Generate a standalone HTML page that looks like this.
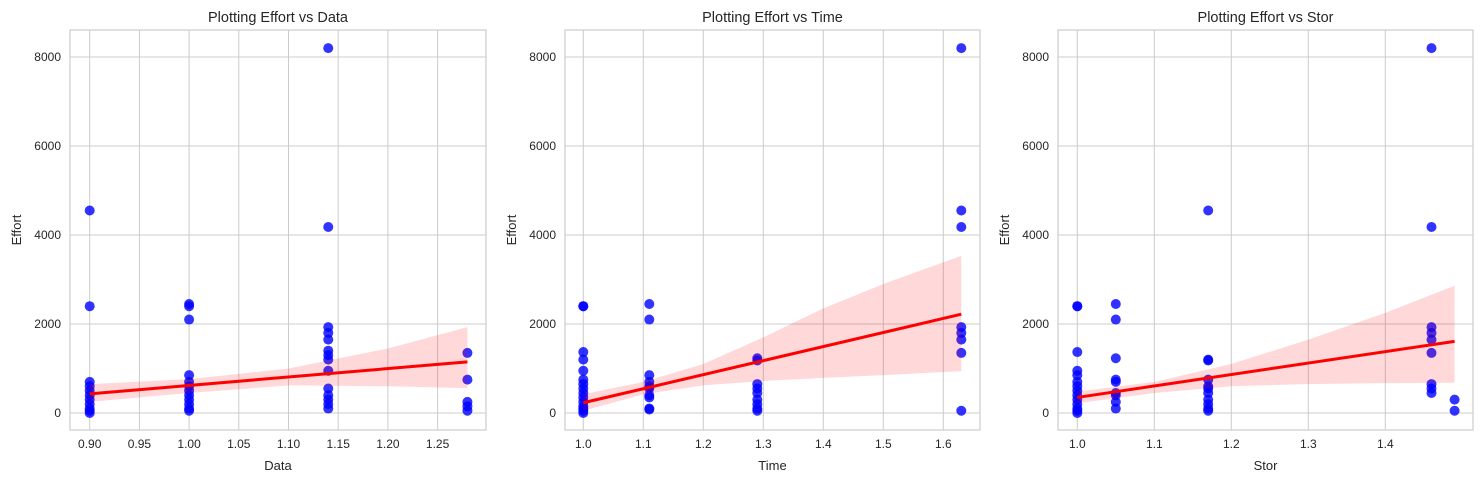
<!DOCTYPE html>
<html><head><meta charset="utf-8"><style>
body{margin:0;background:#fff;font-family:"Liberation Sans",sans-serif}
svg text{font-family:"Liberation Sans",sans-serif;fill:#262626}
</style></head><body>
<svg id="chart" width="1483" height="484" xmlns="http://www.w3.org/2000/svg"></svg>
<script>
// Panel 1: Data
const p1X=[0.90,0.90,0.90,0.90,0.90,0.90,0.90,0.90,0.90,0.90,0.90, 1.00,1.00,1.00,1.00,1.00,1.00,1.00,1.00,1.00,1.00,1.00,1.00, 1.14,1.14,1.14,1.14,1.14,1.14,1.14,1.14,1.14,1.14,1.14,1.14,1.14,1.14, 1.28,1.28,1.28,1.28,1.28];
const p1Y=[4550,2400,700,600,500,400,300,200,100,50,0, 2450,2400,2100,850,700,600,500,400,300,200,100,50, 8200,4180,1930,1800,1650,1400,1300,1200,950,550,400,300,200,100, 1350,750,250,150,50];
const p1FitX=[0.90,1.00,1.10,1.20,1.28];
const p1FitLo=[250,450,620,600,560];
const p1FitHi=[650,760,1000,1450,1930];
const p1Line=[430,1150];
const p1Ticks=[0.90,0.95,1.00,1.05,1.10,1.15,1.20,1.25];
const p1TickLabels=["0.90","0.95","1.00","1.05","1.10","1.15","1.20","1.25"];
// Panel 2: Time
const p2X=[1,1,1,1,1,1,1,1,1,1,1,1,1,1,1, 1.11,1.11,1.11,1.11,1.11,1.11,1.11,1.11,1.11,1.11, 1.29,1.29,1.29,1.29,1.29,1.29,1.29,1.29,1.29, 1.63,1.63,1.63,1.63,1.63,1.63,1.63,1.63];
const p2Y=[2400,2400,1370,1200,950,750,650,550,450,350,250,150,100,50,0, 2450,2100,850,700,600,550,400,350,100,80, 1230,1180,650,550,450,300,200,100,50, 8200,4550,4180,1930,1800,1650,1350,50];
const p2FitX=[1.0,1.1,1.2,1.3,1.4,1.5,1.63];
const p2FitLo=[50,420,620,720,790,850,940];
const p2FitHi=[420,700,1100,1700,2350,2900,3530];
const p2Line=[230,2220];
const p2Ticks=[1.0,1.1,1.2,1.3,1.4,1.5,1.6];
const p2TickLabels=["1.0","1.1","1.2","1.3","1.4","1.5","1.6"];
// Panel 3: Stor
const p3X=[1,1,1,1,1,1,1,1,1,1,1,1,1,1, 1.05,1.05,1.05,1.05,1.05,1.05,1.05,1.05,1.05, 1.17,1.17,1.17,1.17,1.17,1.17,1.17,1.17,1.17,1.17,1.17, 1.46,1.46,1.46,1.46,1.46,1.46,1.46,1.46,1.46, 1.49,1.49];
const p3Y=[2400,2400,1370,950,850,700,600,500,400,300,200,100,50,0, 2450,2100,1230,750,700,450,400,250,100, 4550,1200,1180,750,600,550,450,300,200,100,50, 8200,4180,1930,1800,1650,1350,650,550,450, 300,50];
const p3FitX=[1.0,1.1,1.2,1.3,1.4,1.49];
const p3FitLo=[220,450,600,650,670,680];
const p3FitHi=[480,700,1100,1650,2250,2860];
const p3Line=[350,1610];
const p3Ticks=[1.0,1.1,1.2,1.3,1.4];
const p3TickLabels=["1.0","1.1","1.2","1.3","1.4"];
const yTicks=[0,2000,4000,6000,8000];
const yTickLabels=["0","2000","4000","6000","8000"];

const svg=document.getElementById('chart');
const NS="http://www.w3.org/2000/svg";
function mk(tag,attrs,parent){const e=document.createElementNS(NS,tag);for(const k in attrs)e.setAttribute(k,attrs[k]);(parent||svg).appendChild(e);return e;}
function yS(v){return 413-v*(89/2000);}

const panels=[
 {name:"data",title:"Plotting Effort vs Data",xl:"Data",L:70,R:486,x0:0.90,px0:89.7,pxPer:49.7/0.05,X:p1X,Y:p1Y,fx:p1FitX,lo:p1FitLo,hi:p1FitHi,line:p1Line,ticks:p1Ticks,tl:p1TickLabels},
 {name:"time",title:"Plotting Effort vs Time",xl:"Time",L:565,R:980,x0:1.0,px0:583.3,pxPer:600,X:p2X,Y:p2Y,fx:p2FitX,lo:p2FitLo,hi:p2FitHi,line:p2Line,ticks:p2Ticks,tl:p2TickLabels},
 {name:"stor",title:"Plotting Effort vs Stor",xl:"Stor",L:1058,R:1473,x0:1.0,px0:1077.3,pxPer:770,X:p3X,Y:p3Y,fx:p3FitX,lo:p3FitLo,hi:p3FitHi,line:p3Line,ticks:p3Ticks,tl:p3TickLabels}
];
const T=30,B=430;
panels.forEach(p=>{
  const xS=v=>p.px0+(v-p.x0)*p.pxPer;
  const g=mk('g',{});
  
  
  p.ticks.forEach((t,i)=>{
    const gl=mk('line',{x1:xS(t),x2:xS(t),y1:T,y2:B,stroke:'#cccccc','stroke-width':1},g);
    
    
    const tx=mk('text',{x:xS(t),y:B+18,'text-anchor':'middle','font-size':12},g);
    tx.textContent=p.tl[i];
    
    
  });
  yTicks.forEach((t,i)=>{
    const gl=mk('line',{x1:p.L,x2:p.R,y1:yS(t),y2:yS(t),stroke:'#cccccc','stroke-width':1},g);
    
    
    const tx=mk('text',{x:p.L-9,y:yS(t)+4,'text-anchor':'end','font-size':12},g);
    tx.textContent=yTickLabels[i];
    
    
  });
  const fr=mk('rect',{x:p.L,y:T,width:p.R-p.L,height:B-T,fill:'none',stroke:'#cccccc','stroke-width':1.2},g);
  
  
  p.X.forEach((x,i)=>{
    const c=mk('circle',{cx:xS(x),cy:yS(p.Y[i]),r:5,fill:'#0000ff','fill-opacity':0.8},g);
    
    
  });
  let pts=p.fx.map((x,i)=>xS(x)+','+yS(p.hi[i]));
  for(let i=p.fx.length-1;i>=0;i--)pts.push(xS(p.fx[i])+','+yS(p.lo[i]));
  const band=mk('polygon',{points:pts.join(' '),fill:'#ff0000','fill-opacity':0.15},g);
  
  
  const xa=p.fx[0],xb=p.fx[p.fx.length-1];
  const ln=mk('line',{x1:xS(xa),y1:yS(p.line[0]),x2:xS(xb),y2:yS(p.line[1]),stroke:'#ff0000','stroke-width':3},g);
  
  
  const ti=mk('text',{x:(p.L+p.R)/2,y:22,'text-anchor':'middle','font-size':14.5},g);
  ti.textContent=p.title;
  
  
  const xl=mk('text',{x:(p.L+p.R)/2,y:470,'text-anchor':'middle','font-size':13},g);
  xl.textContent=p.xl;
  
  
  const yl=mk('text',{x:0,y:0,'text-anchor':'middle','font-size':13,transform:`translate(${p.L-49},230) rotate(-90)`},g);
  yl.textContent='Effort';
  
  
});
</script>
</body></html>
